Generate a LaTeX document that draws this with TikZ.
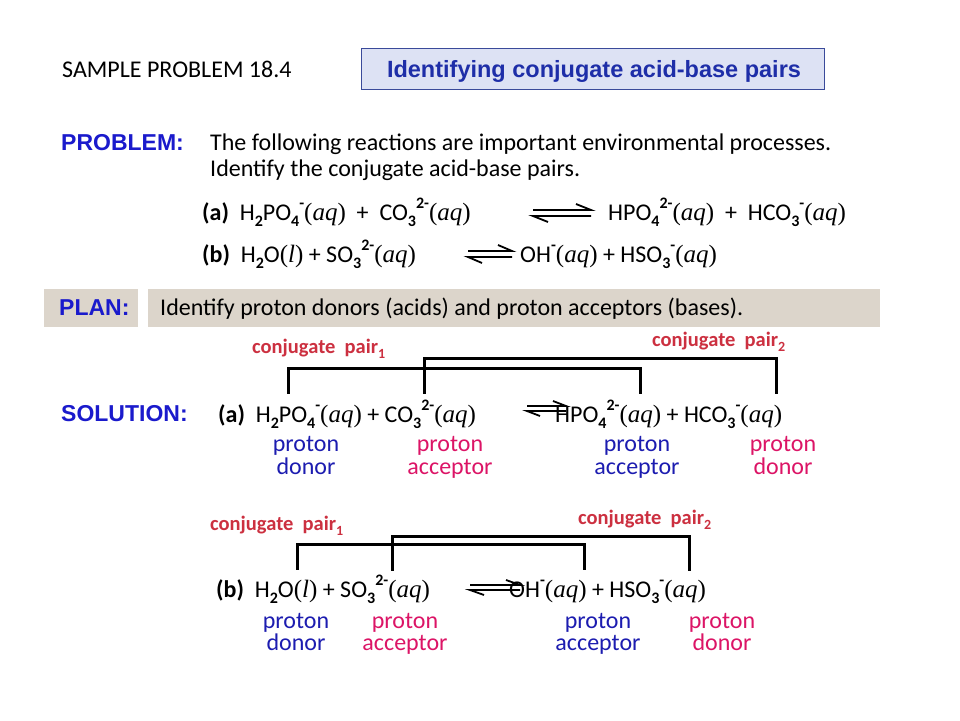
\documentclass[tikz,border=0pt]{standalone}
\usepackage{fontspec}
\usepackage{graphicx}
\setmainfont{Carlito}
\newfontfamily\arialf{Liberation Sans}
\newfontfamily\timesf{Liberation Serif}
\newcommand\fsz[1]{\fontsize{#1}{#1}\selectfont}
\newcommand\chsb[1]{\raisebox{-0.25em}{\fsz{16}\bfseries #1}}
\newcommand\chsp[1]{\raisebox{0.5em}{\fsz{16}\bfseries #1}}
\newcommand\aqx{{\fsz{25}\timesf(\textit{aq})}}
\newcommand\liqx{{\fsz{25}\timesf(\textit{l})}}
\newcommand\csub[1]{\raisebox{-0.25em}{\fsz{14}#1}}
\definecolor{headblue}{HTML}{1A1ACC}
\definecolor{titleblue}{HTML}{1E2EA8}
\definecolor{titlefill}{HTML}{DDE2F4}
\definecolor{titledraw}{HTML}{3A4A9A}
\definecolor{planfill}{HTML}{DCD5CB}
\definecolor{pairred}{HTML}{CC3040}
\definecolor{labblue}{HTML}{1C1CB0}
\definecolor{labpink}{HTML}{DC1466}
\tikzset{
  txt/.style={inner sep=0pt, anchor=base west, font=\fsz{24}},
  head/.style={inner sep=0pt, anchor=base west, font=\fsz{23}\arialf\bfseries, text=headblue},
  pairlab/.style={inner sep=0pt, anchor=base west, font=\fsz{20.5}\bfseries, text=pairred},
  labb/.style={inner sep=0pt, anchor=base, font=\fsz{24}, text=labblue},
  labp/.style={inner sep=0pt, anchor=base, font=\fsz{24}, text=labpink},
  bracket/.style={line width=3pt, line cap=rect},
  harp/.style={line width=1.8pt},
}
\begin{document}
\begin{tikzpicture}[x=1pt,y=-1pt]
\useasboundingbox (0,0) rectangle (960,720);
\fill[white] (0,0) rectangle (960,720);

% header
\node[txt] (sample) at (62,77) {SAMPLE PROBLEM 18.4};
\node[draw=titledraw, line width=0.8pt, fill=titlefill, minimum width=463pt, minimum height=41pt, inner sep=0pt] (titlebox) at (592.5,69) {};
\node[inner sep=0pt, anchor=base, font=\fsz{23.5}\arialf\bfseries, text=titleblue] (title) at (594,77) {Identifying conjugate acid-base pairs};

% problem
\node[head] (probhead) at (61,150) {PROBLEM:};
\node[txt] (prob1) at (210,150) {The following reactions are important environmental processes.};
\node[txt] (prob2) at (210,176) {Identify the conjugate acid-base pairs.};

\node[txt] (pa) at (202,220) {\textbf{(a)}\ \ H\chsb{2}PO\chsb{4}\chsp{-}\aqx\ \ +\ \ CO\chsb{3}\chsp{2-}\aqx};
\node[txt] (paR) at (608,220) {HPO\chsb{4}\chsp{2-}\aqx\ \ +\ \ HCO\chsb{3}\chsp{-}\aqx};
\coordinate (paA1) at (533,210);
\coordinate (paA2) at (591,210);
\coordinate (paB1) at (591,216);
\coordinate (paB2) at (533,216);
\draw[harp] (paA1) -- (paA2) -- ++(-15,-6);
\draw[harp] (paB1) -- (paB2) -- ++(15,6);

\node[txt] (pb) at (202,262) {\textbf{(b)}\ \ H\chsb{2}O\liqx\ + SO\chsb{3}\chsp{2-}\aqx};
\node[txt] (pbR) at (520,262) {OH\chsp{-}\aqx\ + HSO\chsb{3}\chsp{-}\aqx};
\coordinate (pbA1) at (468,251);
\coordinate (pbA2) at (512,251);
\coordinate (pbB1) at (512,257);
\coordinate (pbB2) at (468,257);
\draw[harp] (pbA1) -- (pbA2) -- ++(-14,-6);
\draw[harp] (pbB1) -- (pbB2) -- ++(14,6);

% plan
\fill[planfill] (44,289) rectangle (138,327);
\fill[planfill] (148,289) rectangle (880,327);
\node[head] (planhead) at (59,315) {PLAN:};
\node[txt] (plantext) at (160,315) {Identify proton donors (acids) and proton acceptors (bases).};

% solution (a)
\node[head] (solhead) at (61,421) {SOLUTION:};
\node[txt] (sa) at (218,422) {\textbf{(a)}\ \ H\chsb{2}PO\chsb{4}\chsp{-}\aqx\ + CO\chsb{3}\chsp{2-}\aqx};
\node[txt] (saR) at (555,422) {HPO\chsb{4}\chsp{2-}\aqx\ + HCO\chsb{3}\chsp{-}\aqx};
\coordinate (saA1) at (527,406);
\coordinate (saA2) at (566,406);
\coordinate (saB1) at (566,411);
\coordinate (saB2) at (527,411);
\draw[harp] (saA1) -- (saA2) -- ++(-13,-5);
\draw[harp] (saB1) -- (saB2) -- ++(13,5);

\node[pairlab] (sap1) at (252,353) {conjugate\ \ pair\csub{1}};
\node[pairlab] (sap2) at (652,346) {conjugate\ \ pair\csub{2}};
\coordinate (sa1L) at (288,392);
\coordinate (sa1R) at (640,392);
\coordinate (sa2L) at (424,392);
\coordinate (sa2R) at (776,392);
\draw[bracket] (sa1L) -- ++(0,-24) -| (sa1R);
\draw[bracket] (sa2L) -- ++(0,-34) -| (sa2R);

\node[labb] (sal1a) at (306,451) {proton};
\node[labb] (sal1b) at (306,474) {donor};
\node[labp] (sal2a) at (450,451) {proton};
\node[labp] (sal2b) at (450,474) {acceptor};
\node[labb] (sal3a) at (637,451) {proton};
\node[labb] (sal3b) at (637,474) {acceptor};
\node[labp] (sal4a) at (783,451) {proton};
\node[labp] (sal4b) at (783,474) {donor};

% solution (b)
\node[txt] (sb) at (216,597) {\textbf{(b)}\ \ H\chsb{2}O\liqx\ + SO\chsb{3}\chsp{2-}\aqx};
\node[txt] (sbR) at (509,597) {OH\chsp{-}\aqx\ + HSO\chsb{3}\chsp{-}\aqx};
\coordinate (sbA1) at (470,585);
\coordinate (sbA2) at (520,585);
\coordinate (sbB1) at (520,590);
\coordinate (sbB2) at (470,590);
\draw[harp] (sbA1) -- (sbA2) -- ++(-14,-5);
\draw[harp] (sbB1) -- (sbB2) -- ++(14,5);

\node[pairlab] (sbp1) at (210,530) {conjugate\ \ pair\csub{1}};
\node[pairlab] (sbp2) at (578,524) {conjugate\ \ pair\csub{2}};
\coordinate (sb1L) at (297,568);
\coordinate (sb1R) at (584,568);
\coordinate (sb2L) at (392,569);
\coordinate (sb2R) at (689,569);
\draw[bracket] (sb1L) -- ++(0,-24) -| (sb1R);
\draw[bracket] (sb2L) -- ++(0,-33) -| (sb2R);

\node[labb] (sbl1a) at (296,628) {proton};
\node[labb] (sbl1b) at (296,650) {donor};
\node[labp] (sbl2a) at (405,628) {proton};
\node[labp] (sbl2b) at (405,650) {acceptor};
\node[labb] (sbl3a) at (598,628) {proton};
\node[labb] (sbl3b) at (598,650) {acceptor};
\node[labp] (sbl4a) at (722,628) {proton};
\node[labp] (sbl4b) at (722,650) {donor};
\end{tikzpicture}
\end{document}
